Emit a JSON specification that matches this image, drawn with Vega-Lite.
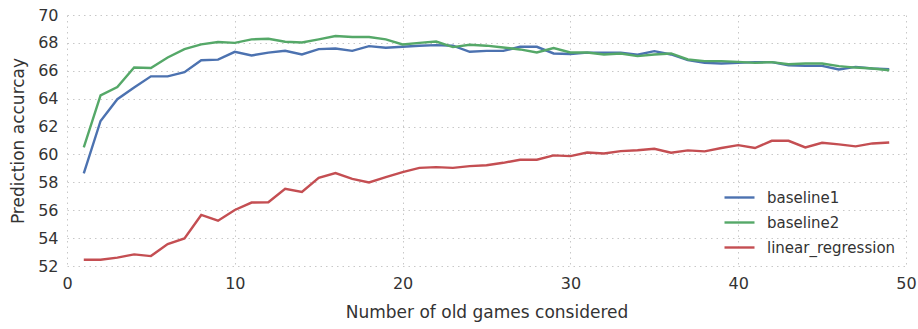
{
  "$schema": "https://vega.github.io/schema/vega-lite/v6.json",
  "width": 839,
  "height": 251,
  "autosize": {"type": "none"},
  "padding": {"left": 67, "top": 15, "right": 12, "bottom": 63},
  "background": "white",
  "config": {
    "view": {"stroke": null},
    "font": "DejaVu Sans",
    "axis": {
      "domain": false,
      "ticks": false,
      "grid": true,
      "gridColor": "#c8c8c8",
      "gridDash": [1.5, 4],
      "gridWidth": 1,
      "labelColor": "#333333",
      "labelFont": "DejaVu Sans",
      "labelFontSize": 16,
      "labelFlush": false,
      "titleColor": "#333333",
      "titleFont": "DejaVu Sans",
      "titleFontSize": 17,
      "titleFontWeight": "normal"
    },
    "legend": {
      "labelFont": "DejaVu Sans",
      "labelFontSize": 15,
      "labelColor": "#333333"
    }
  },
  "data": {
    "values": [
      {"n": 1, "baseline1": 58.65, "baseline2": 60.5, "linear_regression": 52.45},
      {"n": 2, "baseline1": 62.4, "baseline2": 64.24, "linear_regression": 52.45},
      {"n": 3, "baseline1": 63.96, "baseline2": 64.84, "linear_regression": 52.6},
      {"n": 4, "baseline1": 64.8, "baseline2": 66.24, "linear_regression": 52.83},
      {"n": 5, "baseline1": 65.6, "baseline2": 66.2, "linear_regression": 52.71},
      {"n": 6, "baseline1": 65.6, "baseline2": 66.95, "linear_regression": 53.57},
      {"n": 7, "baseline1": 65.9, "baseline2": 67.55, "linear_regression": 53.98},
      {"n": 8, "baseline1": 66.76, "baseline2": 67.89, "linear_regression": 55.66},
      {"n": 9, "baseline1": 66.8, "baseline2": 68.06, "linear_regression": 55.25},
      {"n": 10, "baseline1": 67.36, "baseline2": 68.0, "linear_regression": 56.02},
      {"n": 11, "baseline1": 67.1, "baseline2": 68.25, "linear_regression": 56.55},
      {"n": 12, "baseline1": 67.3, "baseline2": 68.3, "linear_regression": 56.57},
      {"n": 13, "baseline1": 67.43, "baseline2": 68.08, "linear_regression": 57.53},
      {"n": 14, "baseline1": 67.17, "baseline2": 68.03, "linear_regression": 57.31},
      {"n": 15, "baseline1": 67.55, "baseline2": 68.25, "linear_regression": 58.32},
      {"n": 16, "baseline1": 67.6, "baseline2": 68.49, "linear_regression": 58.66},
      {"n": 17, "baseline1": 67.43, "baseline2": 68.42, "linear_regression": 58.25},
      {"n": 18, "baseline1": 67.77, "baseline2": 68.42, "linear_regression": 57.99},
      {"n": 19, "baseline1": 67.65, "baseline2": 68.25, "linear_regression": 58.37},
      {"n": 20, "baseline1": 67.72, "baseline2": 67.89, "linear_regression": 58.73},
      {"n": 21, "baseline1": 67.8, "baseline2": 68.0, "linear_regression": 59.04},
      {"n": 22, "baseline1": 67.84, "baseline2": 68.1, "linear_regression": 59.09},
      {"n": 23, "baseline1": 67.8, "baseline2": 67.7, "linear_regression": 59.04},
      {"n": 24, "baseline1": 67.36, "baseline2": 67.87, "linear_regression": 59.16},
      {"n": 25, "baseline1": 67.43, "baseline2": 67.8, "linear_regression": 59.23},
      {"n": 26, "baseline1": 67.43, "baseline2": 67.67, "linear_regression": 59.4},
      {"n": 27, "baseline1": 67.72, "baseline2": 67.53, "linear_regression": 59.62},
      {"n": 28, "baseline1": 67.72, "baseline2": 67.31, "linear_regression": 59.62},
      {"n": 29, "baseline1": 67.24, "baseline2": 67.63, "linear_regression": 59.93},
      {"n": 30, "baseline1": 67.2, "baseline2": 67.31, "linear_regression": 59.88},
      {"n": 31, "baseline1": 67.3, "baseline2": 67.31, "linear_regression": 60.14},
      {"n": 32, "baseline1": 67.29, "baseline2": 67.17, "linear_regression": 60.07},
      {"n": 33, "baseline1": 67.29, "baseline2": 67.24, "linear_regression": 60.24},
      {"n": 34, "baseline1": 67.15, "baseline2": 67.05, "linear_regression": 60.3},
      {"n": 35, "baseline1": 67.41, "baseline2": 67.17, "linear_regression": 60.41},
      {"n": 36, "baseline1": 67.17, "baseline2": 67.24, "linear_regression": 60.12},
      {"n": 37, "baseline1": 66.76, "baseline2": 66.81, "linear_regression": 60.29},
      {"n": 38, "baseline1": 66.57, "baseline2": 66.69, "linear_regression": 60.22},
      {"n": 39, "baseline1": 66.52, "baseline2": 66.69, "linear_regression": 60.46},
      {"n": 40, "baseline1": 66.57, "baseline2": 66.64, "linear_regression": 60.67},
      {"n": 41, "baseline1": 66.62, "baseline2": 66.57, "linear_regression": 60.46},
      {"n": 42, "baseline1": 66.62, "baseline2": 66.62, "linear_regression": 60.98},
      {"n": 43, "baseline1": 66.4, "baseline2": 66.47, "linear_regression": 60.98},
      {"n": 44, "baseline1": 66.35, "baseline2": 66.52, "linear_regression": 60.5},
      {"n": 45, "baseline1": 66.35, "baseline2": 66.52, "linear_regression": 60.84},
      {"n": 46, "baseline1": 66.09, "baseline2": 66.33, "linear_regression": 60.72},
      {"n": 47, "baseline1": 66.28, "baseline2": 66.23, "linear_regression": 60.58},
      {"n": 48, "baseline1": 66.16, "baseline2": 66.16, "linear_regression": 60.79},
      {"n": 49, "baseline1": 66.11, "baseline2": 66.04, "linear_regression": 60.86}
    ]
  },
  "transform": [
    {"fold": ["baseline1", "baseline2", "linear_regression"], "as": ["model", "accuracy"]}
  ],
  "mark": {"type": "line", "strokeWidth": 2.4, "clip": true},
  "encoding": {
    "x": {
      "field": "n",
      "type": "quantitative",
      "title": "Number of old games considered",
      "scale": {"domain": [0, 50], "nice": false, "zero": false},
      "axis": {"values": [0, 10, 20, 30, 40, 50], "labelPadding": 9, "titlePadding": 13}
    },
    "y": {
      "field": "accuracy",
      "type": "quantitative",
      "title": "Prediction accurcay",
      "scale": {"domain": [52, 70], "nice": false, "zero": false},
      "axis": {"values": [52, 54, 56, 58, 60, 62, 64, 66, 68, 70], "labelPadding": 9, "titlePadding": 10}
    },
    "color": {
      "field": "model",
      "type": "nominal",
      "title": null,
      "scale": {
        "domain": ["baseline1", "baseline2", "linear_regression"],
        "range": ["#4C72B0", "#55A868", "#C44E52"]
      },
      "legend": {
        "orient": "none",
        "legendX": 656,
        "legendY": 166,
        "symbolType": "stroke",
        "symbolSize": 900,
        "symbolStrokeWidth": 2.4,
        "labelOffset": 11,
        "rowPadding": -9
      }
    }
  }
}
